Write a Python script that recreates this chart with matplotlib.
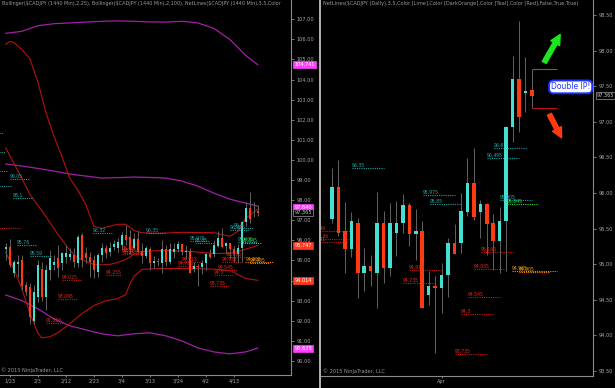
import numpy as np
import matplotlib.pyplot as plt
import matplotlib.transforms as mtransforms
from matplotlib.patches import FancyArrowPatch
from matplotlib.lines import Line2D

plt.rcParams['font.family'] = ['DejaVu Sans']

# daily CADJPY bars, 64 of them; the last 32 are the ones on the right chart
opens = [95.56, 95.66, 94.36, 94.83, 95.02, 93.78, 93.70, 91.99, 93.20, 94.57,
         93.20, 94.53, 94.78, 95.12, 94.88, 95.19, 95.19, 95.27, 94.86, 96.27,
         95.37, 95.19, 95.02, 94.44, 95.27, 95.60, 95.41, 95.69, 95.60, 95.77,
         96.27, 96.18,
         95.64, 96.09, 95.46, 95.22, 95.58, 94.87, 94.98, 94.88, 95.58, 94.94,
         95.44, 95.58, 95.83, 95.43, 95.47, 94.57, 94.70, 94.66, 94.85, 95.30,
         95.30, 95.74, 96.14, 95.74, 95.85, 95.58, 95.33, 95.61, 96.92, 97.60,
         97.41, 97.45]
highs = [95.87, 96.07, 95.02, 95.27, 95.27, 93.94, 93.88, 93.78, 95.02, 94.92,
         94.78, 95.52, 95.27, 95.77, 95.44, 95.77, 95.60, 95.62, 96.27, 96.37,
         95.69, 95.44, 95.27, 95.36, 95.85, 95.77, 95.90, 96.00, 96.10, 96.40,
         96.77, 96.50,
         96.35, 96.47, 95.88, 95.74, 95.65, 95.23, 95.13, 96.02, 95.75, 95.86,
         95.89, 95.98, 95.86, 95.78, 95.60, 94.90, 94.83, 95.01, 95.37, 95.57,
         96.00, 96.49, 96.63, 95.90, 95.86, 95.71, 95.81, 96.94, 97.92, 98.42,
         97.91, 97.74]
lows = [95.02, 94.69, 94.19, 94.19, 93.53, 93.28, 91.86, 91.86, 92.95, 93.00,
        92.51, 94.03, 94.53, 94.19, 94.53, 94.88, 95.00, 94.69, 94.69, 94.69,
        94.88, 94.19, 94.13, 94.19, 94.94, 95.10, 95.20, 95.50, 95.40, 95.50,
        95.77, 95.30,
        95.58, 95.40, 94.88, 95.10, 94.53, 94.63, 94.70, 94.38, 94.74, 94.83,
        95.12, 95.44, 95.25, 95.06, 94.38, 94.43, 93.75, 94.31, 94.54, 95.14,
        95.16, 95.67, 95.62, 95.37, 95.13, 94.92, 94.88, 94.91, 96.72, 96.85,
        97.14, 97.20]
closes = [95.69, 94.78, 94.94, 94.94, 93.75, 93.45, 92.20, 93.45, 94.78, 93.20,
          94.53, 95.12, 94.94, 94.63, 95.37, 95.37, 95.31, 94.94, 96.18, 95.02,
          95.12, 94.94, 94.53, 95.27, 95.60, 95.36, 95.64, 95.81, 95.94, 96.27,
          96.02, 95.52,
          96.09, 95.44, 95.22, 95.60, 94.88, 94.98, 94.90, 95.58, 94.94, 95.58,
          95.58, 95.83, 95.43, 95.47, 94.39, 94.70, 94.66, 94.85, 95.30, 95.15,
          95.75, 96.14, 95.66, 95.85, 95.57, 95.33, 95.61, 96.92, 97.60, 97.07,
          97.43, 97.365]

left_dates = ['1/23', '2/3', '2/12', '2/23', '3/4', '3/13', '3/24', '4/2', '4/13']
left_date_idx = [1, 8, 15, 22, 29, 36, 43, 50, 57]

# Bollinger(2,25)  (red)
bb25_up_idx = [0, 1, 2, 4, 6, 8, 10, 12, 14, 16, 18, 20, 22, 24, 26, 28, 30, 32, 34, 38,
               44, 52, 56, 58, 60, 63]
bb25_up = [105.75, 105.9, 105.85, 105.5, 105.05, 103.9, 102.4, 101.2, 100.2, 99.1,
           98.5, 97.8, 96.7, 96.6, 96.7, 96.8, 96.8, 96.5, 96.38, 96.35,
           96.4, 96.38, 96.2, 96.45, 97.1, 97.55]
bb25_mid_idx = [0, 2, 4, 6, 8, 10, 12, 14, 16, 18, 20, 22, 24, 26, 28, 30, 32, 34, 40, 46,
                52, 56, 59, 63]
bb25_mid = [100.6, 99.85, 99.1, 98.3, 97.75, 97.2, 96.6, 96.05, 95.5, 95.13,
            94.95, 94.8, 94.78, 94.8, 94.9, 95.05, 95.3, 95.45, 95.5, 95.45,
            95.35, 95.35, 95.5, 95.75]
bb25_low_idx = [0, 1, 2, 4, 6, 8, 9, 11, 13, 16, 19, 22, 25, 28, 30, 31, 32, 34, 38, 46,
                52, 56, 58, 60, 63]
bb25_low = [95.4, 95.0, 94.6, 93.6, 92.4, 91.4, 91.15, 91.2, 91.4, 91.85,
            92.35, 92.75, 93.0, 93.1, 93.3, 93.8, 94.2, 94.55, 94.6, 94.6,
            94.57, 94.5, 94.3, 94.1, 94.01]

# Bollinger(2,100)  (purple)
bb100_idx = [0, 4, 8, 12, 16, 20, 24, 28, 32, 36, 40, 44, 48, 52, 56, 60, 63]
bb100_up = [106.3, 106.4, 106.68, 106.78, 106.82, 106.86, 106.9, 106.92, 106.9, 106.87,
            106.86, 106.9, 106.82, 106.55, 106.0, 105.2, 104.74]
bb100_mid = [99.8, 99.7, 99.58, 99.45, 99.3, 99.2, 99.1, 99.12, 99.15, 99.13,
             99.1, 98.95, 98.7, 98.35, 98.05, 97.85, 97.7]
bb100_low = [93.28, 93.0, 92.6, 92.1, 91.75, 91.55, 91.35, 91.25, 91.35, 91.4,
             91.25, 91.0, 90.65, 90.45, 90.35, 90.45, 90.64]

# NetLines levels: price, first bar, last bar, colour, label
lvl_price = [101.34, 100.4, 99.45, 99.05, 98.7, 98.1, 95.77, 95.2, 96.35, 96.35,
             95.975, 95.85, 96.63, 96.495, 95.905,
             95.845,
             96.63, 94.025, 93.08, 91.9, 94.27, 95.46, 95.36, 95.31, 94.915, 94.735,
             95.165, 94.935, 94.545, 94.3, 93.735,
             94.905, 94.89]
lvl_start = [-1.6, -1.6, -1.6, 1.1, -1.6, 1.8, 2.8, 6.0, 21.8, 35.1,
             46.1, 47.2, 57.1, 56.0, 58.0,
             59.1,
             -1.6, 14.1, 13.1, 10.1, 25.1, 29.0, 29.5, 29.0, 43.9, 43.0,
             55.1, 54.0, 53.1, 52.0, 51.1,
             59.9, 61.0]
lvl_end = [-0.7, -0.2, 0.6, 5.8, 1.6, 6.8, 7.8, 11.6, 26.6, 40.1,
           51.1, 52.0, 62.1, 61.0, 63.0,
           63.8,
           3.6, 19.1, 18.1, 15.1, 29.1, 34.8, 34.8, 34.5, 48.9, 48.0,
           60.1, 58.8, 58.0, 57.0, 56.0,
           66.9, 65.8]
lvl_kind = ['teal'] * 15 + ['lime'] + ['red'] * 15 + ['orange'] * 2
lvl_text = ['', '', '', '99.05', '', '98.1', '95.76', '95.59', '96.32', '96.35',
            '95.975', '95.85', '96.6', '96.495', '95.905',
            '95.845',
            '', '94.025', '93.095', '91.865', '94.255', '95.46', '95.36', '95.31',
            '94.915', '94.735', '95.165', '94.935', '94.545', '94.3', '93.735',
            '94.905', '94.905']

left_tags = ['104.741', '97.640', '97.365', '95.747', '94.014', '90.638']
left_tag_price = [104.741, 97.640, 97.365, 95.747, 94.014, 90.638]
left_tag_kind = ['mag', 'mag', 'dark', 'red', 'red', 'mag']

TEAL = '#45e0d2'
RED = '#ff3a12'
WICK = '#626262'
GRID = '#8a8a8a'
TXT = '#a8a8a8'
line_col = {'teal': '#16a0a0', 'lime': '#2ed02e', 'red': '#c81616', 'orange': '#ff8c00'}
text_col = {'teal': '#22acac', 'lime': '#3ee03e', 'red': '#e82a1a', 'orange': '#ff9a10'}
tag_style = {'mag': ('#ff40ff', '#ff40ff', 'white'),
             'red': ('#ff3a20', '#ff3a20', 'white'),
             'dark': ('black', '#9a9a9a', '#c8c8c8')}


def draw_candles(ax, xs, o, h, l, c, width):
    o, h, l, c = (np.asarray(v, float) for v in (o, h, l, c))
    ax.vlines(xs, l, h, color=WICK, lw=0.7, zorder=3)
    cols = np.where(c >= o, TEAL, RED)
    ax.bar(xs, np.maximum(np.abs(c - o), 0.02), width, bottom=np.minimum(o, c),
           color=cols, linewidth=0, zorder=4)


def draw_levels(ax, shift, fs):
    for p, s, e, k, t in zip(lvl_price, lvl_start, lvl_end, lvl_kind, lvl_text):
        ax.hlines(p, s - shift, e - shift, colors=line_col[k], linestyles=(0, (1, 1)),
                  lw=0.8, zorder=2)
        if t:
            ax.text(s - shift, p, t, color=text_col[k], fontsize=fs, va='bottom',
                    ha='left', clip_on=True, zorder=5)


def style_axes(ax):
    ax.set_facecolor('black')
    for side in ['top', 'left']:
        ax.spines[side].set_visible(False)
    for side in ['right', 'bottom']:
        ax.spines[side].set_color(GRID)
        ax.spines[side].set_linewidth(0.8)
    ax.yaxis.tick_right()
    ax.tick_params(colors=GRID, labelcolor=TXT, labelsize=3.6, length=2, width=0.6, pad=2)
    ax.tick_params(axis='x', length=1.5, pad=1)


fig = plt.figure(figsize=(6.15, 3.88), dpi=100, facecolor='black')

# ---- left: 1440 min with Bollinger bands ----
ax1 = fig.add_axes([0, 13 / 388, 291 / 615, 375 / 388])
style_axes(ax1)
n = len(opens)
draw_candles(ax1, np.arange(n), opens, highs, lows, closes, 0.6)
ax1.plot(bb100_idx, bb100_up, color='#a020a8', lw=0.9, zorder=2)
ax1.plot(bb100_idx, bb100_mid, color='#a020a8', lw=0.9, zorder=2)
ax1.plot(bb100_idx, bb100_low, color='#a020a8', lw=0.9, zorder=2)
ax1.plot(bb25_up_idx, bb25_up, color='#b81010', lw=0.8, zorder=2)
ax1.plot(bb25_mid_idx, bb25_mid, color='#b81010', lw=0.8, zorder=2)
ax1.plot(bb25_low_idx, bb25_low, color='#b81010', lw=0.8, zorder=2)
draw_levels(ax1, 0, 3.3)
ax1.set_xlim(-1.43, 71.3)
ax1.set_ylim(89.30, 107.96)
ax1.set_yticks(np.arange(90, 108, 1.0))
ax1.yaxis.set_major_formatter(plt.FormatStrFormatter('%.2f'))
ax1.set_xticks(left_date_idx)
ax1.set_xticklabels(left_dates, fontsize=3.5)
ax1.text(0.006, 0.997, 'Bollinger($CADJPY (1440 Min),2,25), Bollinger($CADJPY (1440 Min),2,100), '
         'NetLines($CADJPY (1440 Min),3,5,Color',
         transform=ax1.transAxes, color='#9a9a9a', fontsize=3.5, va='top', ha='left',
         clip_on=True)
ax1.text(0.004, 0.006, '\u00a9 2015 NinjaTrader, LLC', transform=ax1.transAxes,
         color='#9a9a9a', fontsize=3.6, va='bottom', ha='left')
tr1 = mtransforms.blended_transform_factory(ax1.transAxes, ax1.transData)
for lab, p, k in zip(left_tags, left_tag_price, left_tag_kind):
    fc, ec, tc = tag_style[k]
    ax1.text(1.012, p, lab, transform=tr1, color=tc, fontsize=3.6, va='center', ha='left',
             bbox=dict(boxstyle='square,pad=0.2', fc=fc, ec=ec, lw=0.5), zorder=6)

# ---- right: daily ----
ax2 = fig.add_axes([321 / 615, 12 / 388, 272 / 615, 376 / 388])
style_axes(ax2)
m = 32
draw_candles(ax2, np.arange(m), opens[-m:], highs[-m:], lows[-m:], closes[-m:], 0.55)
draw_levels(ax2, n - m, 3.3)
ax2.set_xlim(-1.7, 40.47)
ax2.set_ylim(93.43, 98.71)
ax2.set_yticks(np.arange(93.5, 98.51, 0.5))
ax2.yaxis.set_major_formatter(plt.FormatStrFormatter('%.2f'))
ax2.set_xticks([17])
ax2.set_xticklabels(['Apr'], fontsize=3.6)
ax2.text(0.006, 0.997, 'NetLines($CADJPY (Daily),3,5,Color [Lime],Color [DarkOrange],'
         'Color [Teal],Color [Red],False,True,True)',
         transform=ax2.transAxes, color='#9a9a9a', fontsize=3.6, va='top', ha='left')
ax2.text(0.006, 0.006, '\u00a9 2015 NinjaTrader, LLC', transform=ax2.transAxes,
         color='#9a9a9a', fontsize=3.6, va='bottom', ha='left')

# double inflection point marks
last_hi, last_lo = highs[-1], lows[-1]
ax2.hlines(last_hi, m - 1, m + 2.9, colors='#6e6e10', lw=0.8, zorder=3)
ax2.hlines(last_lo, m - 1, m + 2.9, colors='#c01010', lw=0.8, zorder=3)
ax2.add_patch(FancyArrowPatch((m + 0.7, 97.80), (m + 3.6, 98.26),
                              arrowstyle='simple,head_length=0.9,head_width=0.9,tail_width=0.4',
                              mutation_scale=8, color='#1ee61e', zorder=6))
ax2.add_patch(FancyArrowPatch((m + 1.5, 97.14), (m + 3.8, 96.74),
                              arrowstyle='simple,head_length=0.9,head_width=0.9,tail_width=0.4',
                              mutation_scale=8, color='#ff3a12', zorder=6))
ax2.text(m + 5.0, 97.49, 'Double IP!', color='#2036ff', fontsize=5.5, ha='center',
         va='center', zorder=7,
         bbox=dict(boxstyle='round,pad=0.25,rounding_size=0.6', fc='white', ec='#1a30ff', lw=1.4))
tr2 = mtransforms.blended_transform_factory(ax2.transAxes, ax2.transData)
ax2.text(1.014, closes[-1], '97.365', transform=tr2, color='#c8c8c8', fontsize=3.6,
         va='center', ha='left', bbox=dict(boxstyle='square,pad=0.2', fc='black',
                                           ec='#9a9a9a', lw=0.5), zorder=6)

# panel separator
fig.add_artist(Line2D([319.5 / 615, 319.5 / 615], [0, 1], color='#d0d0d0', lw=1.2))

fig.savefig('out.png', dpi=100, facecolor='black')
